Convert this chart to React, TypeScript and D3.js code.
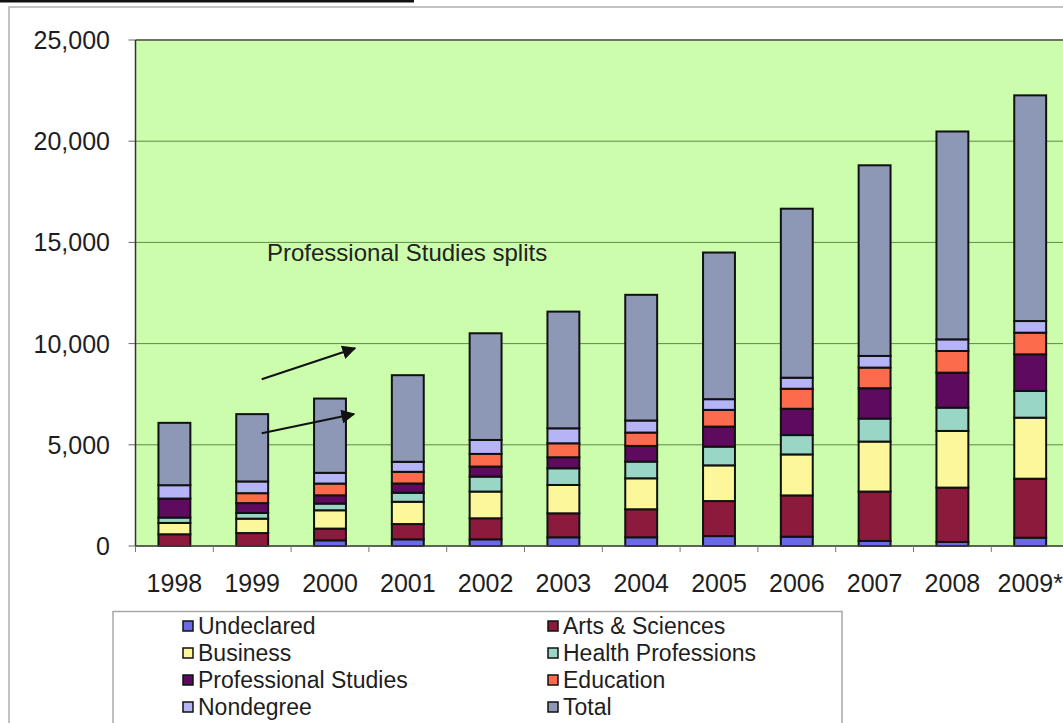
import React from 'react';
import * as d3 from 'd3';

const years = ['1998', '1999', '2000', '2001', '2002', '2003', '2004', '2005', '2006', '2007', '2008', '2009*'];
const undeclared = [0, 0, 280, 330, 330, 430, 430, 490, 460, 250, 200, 410];
const artsSciences = [580, 640, 580, 755, 1040, 1185, 1385, 1730, 2040, 2440, 2685, 2915];
const business = [560, 710, 905, 1100, 1320, 1400, 1530, 1765, 2025, 2470, 2800, 3015];
const health = [265, 280, 330, 445, 740, 825, 825, 925, 955, 1135, 1150, 1320];
const professional = [940, 490, 410, 460, 495, 545, 775, 990, 1300, 1500, 1730, 1810];
const education = [0, 490, 580, 575, 625, 690, 660, 825, 990, 1020, 1070, 1070];
const nondegree = [660, 580, 530, 495, 690, 740, 595, 530, 545, 575, 575, 575];
const total = [3080, 3325, 3670, 4280, 5270, 5765, 6210, 7245, 8350, 9420, 10270, 11150];

const seriesNames = ['Undeclared', 'Arts & Sciences', 'Business', 'Health Professions', 'Professional Studies', 'Education', 'Nondegree', 'Total'];
const seriesColors = ['#6a6ae6', '#8b1a3c', '#fdf79c', '#9ad6c6', '#5e0a5e', '#fb6b4c', '#b4b4f6', '#8d97b6'];
const yTicks = [0, 5000, 10000, 15000, 20000, 25000];
const annotation = 'Professional Studies splits';

const W = 1063;
const H = 723;
const plotLeft = 135.5;
const plotTop = 40;
const plotBottom = 546;
const band = 77.8;

export default function App() {
  const seriesValues = [undeclared, artsSciences, business, health, professional, education, nondegree, total];
  const table = years.map((y, i) => {
    const row: any = { year: y };
    seriesNames.forEach((n, k) => (row[n] = seriesValues[k][i]));
    return row;
  });
  const stack = d3.stack<any>().keys(seriesNames)(table);

  const x = d3
    .scaleBand<string>()
    .domain(years)
    .range([plotLeft, plotLeft + band * years.length])
    .paddingInner(0.59)
    .paddingOuter(0.295);
  const y = d3.scaleLinear().domain([0, 25000]).range([plotBottom, plotTop]);
  const fmt = d3.format(',');
  const font = '"Liberation Sans", Arial, sans-serif';
  const plotRight = plotLeft + band * years.length;

  const legendRows = [
    [0, 1],
    [2, 3],
    [4, 5],
    [6, 7],
  ];

  return (
    <svg width={W} height={H} style={{ position: 'absolute', left: 0, top: 0, background: '#fff' }} fontFamily={font}>
      <defs>
        <marker id="ah" viewBox="0 0 10 10" refX="9" refY="5" markerWidth="7" markerHeight="7" orient="auto">
          <path d="M0,0 L10,5 L0,10 z" fill="#111" />
        </marker>
      </defs>
      {/* top black rule and chart border */}
      <rect x={0} y={0} width={414} height={2.5} fill="#111" />
      <path d={`M9,${H} L9,7 L${W},7`} fill="none" stroke="#b0b0b0" strokeWidth={1.5} />

      {/* plot area */}
      <rect x={plotLeft} y={plotTop} width={plotRight - plotLeft} height={plotBottom - plotTop} fill="#ccfdac" />
      {yTicks.map((t) => (
        <g key={t}>
          <line x1={plotLeft} x2={plotRight} y1={y(t)} y2={y(t)} stroke={t === 25000 ? '#6b7560' : '#5f8a4e'} strokeWidth={t === 25000 ? 2 : 1} />
          <line x1={plotLeft - 7} x2={plotLeft} y1={y(t)} y2={y(t)} stroke="#666" strokeWidth={1} />
          <text x={110} y={y(t)} textAnchor="end" dominantBaseline="central" fontSize={25} fill="#1e1e1e">
            {fmt(t)}
          </text>
        </g>
      ))}

      {/* bars */}
      {stack.map((s, k) => (
        <g key={s.key} fill={seriesColors[k]} stroke="#111" strokeWidth={2}>
          {s.map((d, i) =>
            d[1] - d[0] > 0 ? (
              <rect key={i} x={x(years[i])} y={y(d[1])} width={x.bandwidth()} height={y(d[0]) - y(d[1])} />
            ) : null
          )}
        </g>
      ))}

      {/* axes */}
      <line x1={plotLeft} x2={plotLeft} y1={plotTop} y2={plotBottom} stroke="#333" strokeWidth={1.5} />
      <line x1={plotLeft} x2={plotRight} y1={plotBottom} y2={plotBottom} stroke="#444" strokeWidth={1.5} />
      {years.map((yr, i) => (
        <line key={yr} x1={plotLeft + band * i} x2={plotLeft + band * i} y1={plotBottom} y2={plotBottom + 6} stroke="#777" strokeWidth={1} />
      ))}
      {years.map((yr) => (
        <text key={yr} x={(x(yr) as number) + x.bandwidth() / 2} y={583} textAnchor="middle" dominantBaseline="central" fontSize={25} fill="#1e1e1e">
          {yr}
        </text>
      ))}

      {/* annotation */}
      <text x={267} y={261} fontSize={24} fill="#222">
        {annotation}
      </text>
      <line x1={261.7} y1={379.3} x2={355} y2={348.3} stroke="#111" strokeWidth={2} markerEnd="url(#ah)" />
      <line x1={261.7} y1={433.3} x2={354} y2={414} stroke="#111" strokeWidth={2} markerEnd="url(#ah)" />

      {/* legend */}
      <rect x={113} y={611.5} width={729} height={140} fill="#fff" stroke="#a8a8a8" strokeWidth={1.5} />
      {legendRows.map((row, r) =>
        row.map((k, c) => {
          const ix = c === 0 ? 183 : 548;
          const cy = 626 + r * 27;
          return (
            <g key={k}>
              <rect x={ix} y={cy - 5} width={10} height={10} fill={seriesColors[k]} stroke="#111" strokeWidth={1.5} />
              <text x={ix + 15} y={cy} dominantBaseline="central" fontSize={23} fill="#1e1e1e">
                {seriesNames[k]}
              </text>
            </g>
          );
        })
      )}
    </svg>
  );
}
